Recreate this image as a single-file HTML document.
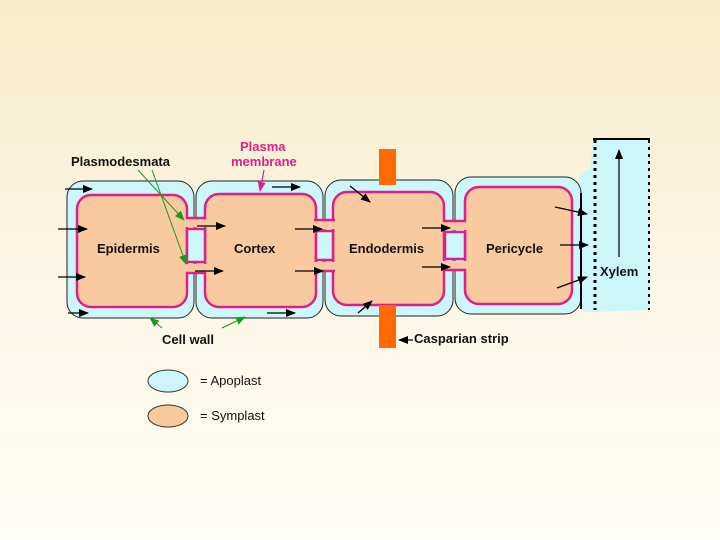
<!DOCTYPE html>
<html><head><meta charset="utf-8"><style>
html,body{margin:0;padding:0;width:720px;height:540px;overflow:hidden}
body{background:linear-gradient(#f6ecc9 0%,#fbf5e2 45%,#fffdf6 100%)}
svg{display:block}
text{font-family:"Liberation Sans",sans-serif;font-weight:bold;font-size:13px;fill:#111}
</style></head><body>
<svg width="720" height="540" viewBox="0 0 720 540">
<defs>
<marker id="a" markerWidth="10" markerHeight="8" refX="9" refY="4" orient="auto" markerUnits="userSpaceOnUse"><path d="M0,0L10,4L0,8z" fill="#000"/></marker>
<marker id="g" markerWidth="10" markerHeight="8" refX="9" refY="4" orient="auto" markerUnits="userSpaceOnUse"><path d="M0,0L10,4L0,8z" fill="#1a9a1a"/></marker>
<marker id="p" markerWidth="10" markerHeight="8" refX="9" refY="4" orient="auto" markerUnits="userSpaceOnUse"><path d="M0,0L10,4L0,8z" fill="#dd1f8a"/></marker>
</defs>
<!-- xylem -->
<path d="M590,170 Q578,172 578,185 L578,300 Q578,312 590,312 L650,310 L650,139 L593,139 Z" fill="#ccf6fa"/>
<line x1="593" y1="139" x2="650" y2="139" stroke="#000" stroke-width="2"/>
<line x1="595" y1="140" x2="595" y2="310" stroke="#000" stroke-width="3" stroke-dasharray="3,4"/>
<line x1="649" y1="140" x2="649" y2="310" stroke="#000" stroke-width="2" stroke-dasharray="3,4"/>
<!-- cell walls -->
<g fill="#ccf6fa" stroke="#222" stroke-width="1">
<rect x="67" y="181" width="127" height="137" rx="16"/>
<rect x="196" y="181" width="127" height="137" rx="16"/>
<rect x="325" y="180" width="128" height="136" rx="16"/>
<rect x="455" y="177" width="126" height="137" rx="16"/>
</g>
<!-- protoplasts -->
<g fill="#f9c9a0" stroke="#dd1f8a" stroke-width="2.5">
<rect x="77" y="195" width="110" height="112" rx="14"/>
<rect x="205" y="194" width="111" height="113" rx="14"/>
<rect x="333" y="192" width="111" height="113" rx="14"/>
<rect x="465" y="187" width="107" height="117" rx="14"/>
</g>
<!-- plasmodesmata channels -->
<g>
<g fill="#f9c9a0"><rect x="185" y="219" width="22" height="8"/><rect x="185" y="264" width="22" height="8"/>
<rect x="314" y="221" width="21" height="8"/><rect x="314" y="262" width="21" height="8"/>
<rect x="442" y="222" width="25" height="8"/><rect x="442" y="261" width="25" height="8"/></g>
<g stroke="#dd1f8a" stroke-width="2.5" fill="#ccf6fa">
<path d="M186,218H206M186,273H206M314,220H335M314,271H335M443,221H466M443,270H466"/>
<rect x="187" y="229" width="18" height="33"/>
<rect x="316" y="231" width="17" height="29"/>
<rect x="445" y="232" width="20" height="27"/>
</g>
</g>
<!-- casparian strip -->
<rect x="379" y="149" width="17" height="36" fill="#ff6a00"/>
<rect x="379" y="305" width="17" height="43" fill="#ff6a00"/>
<!-- arrows -->
<g stroke="#000" stroke-width="1.2" marker-end="url(#a)">
<line x1="65" y1="189" x2="92" y2="189"/><line x1="58" y1="229" x2="87" y2="229"/>
<line x1="58" y1="277" x2="85" y2="277"/><line x1="68" y1="313" x2="88" y2="313"/>
<line x1="272" y1="187" x2="300" y2="187"/><line x1="197" y1="226" x2="225" y2="226"/>
<line x1="195" y1="271" x2="223" y2="271"/><line x1="295" y1="229" x2="322" y2="229"/>
<line x1="295" y1="271" x2="323" y2="271"/><line x1="267" y1="313" x2="295" y2="313"/>
<line x1="350" y1="186" x2="370" y2="202"/><line x1="358" y1="313" x2="372" y2="301"/>
<line x1="422" y1="228" x2="450" y2="228"/><line x1="422" y1="267" x2="450" y2="267"/>
<line x1="555" y1="207" x2="587" y2="214"/><line x1="560" y1="245" x2="588" y2="245"/>
<line x1="557" y1="288" x2="587" y2="277"/>
<line x1="619" y1="257" x2="619" y2="150"/>
<line x1="413" y1="340" x2="399" y2="340"/>
</g>
<line x1="581" y1="193" x2="581" y2="309" stroke="#000" stroke-width="2"/>
<g stroke="#1a9a1a" stroke-width="1" marker-end="url(#g)">
<line x1="138" y1="170" x2="184" y2="220"/><line x1="152" y1="170" x2="186" y2="264"/>
<line x1="162" y1="328" x2="150" y2="318"/><line x1="222" y1="328" x2="245" y2="317"/>
</g>
<line x1="264" y1="170" x2="260" y2="191" stroke="#dd1f8a" stroke-width="1.2" marker-end="url(#p)"/>
<!-- text -->
<text x="71" y="166">Plasmodesmata</text>
<text x="240" y="151" style="fill:#dd1f8a">Plasma</text>
<text x="231" y="166" style="fill:#dd1f8a">membrane</text>
<text x="97" y="253">Epidermis</text>
<text x="234" y="253">Cortex</text>
<text x="349" y="253">Endodermis</text>
<text x="486" y="253">Pericycle</text>
<text x="600" y="276">Xylem</text>
<text x="162" y="344">Cell wall</text>
<text x="414" y="343">Casparian strip</text>
<ellipse cx="168" cy="381" rx="20" ry="11" fill="#ccf6fa" stroke="#333" stroke-width="1"/>
<ellipse cx="168" cy="416" rx="20" ry="11" fill="#f9c9a0" stroke="#333" stroke-width="1"/>
<text x="200" y="385" style="font-weight:normal">= Apoplast</text>
<text x="200" y="420" style="font-weight:normal">= Symplast</text>
</svg>
</body></html>
